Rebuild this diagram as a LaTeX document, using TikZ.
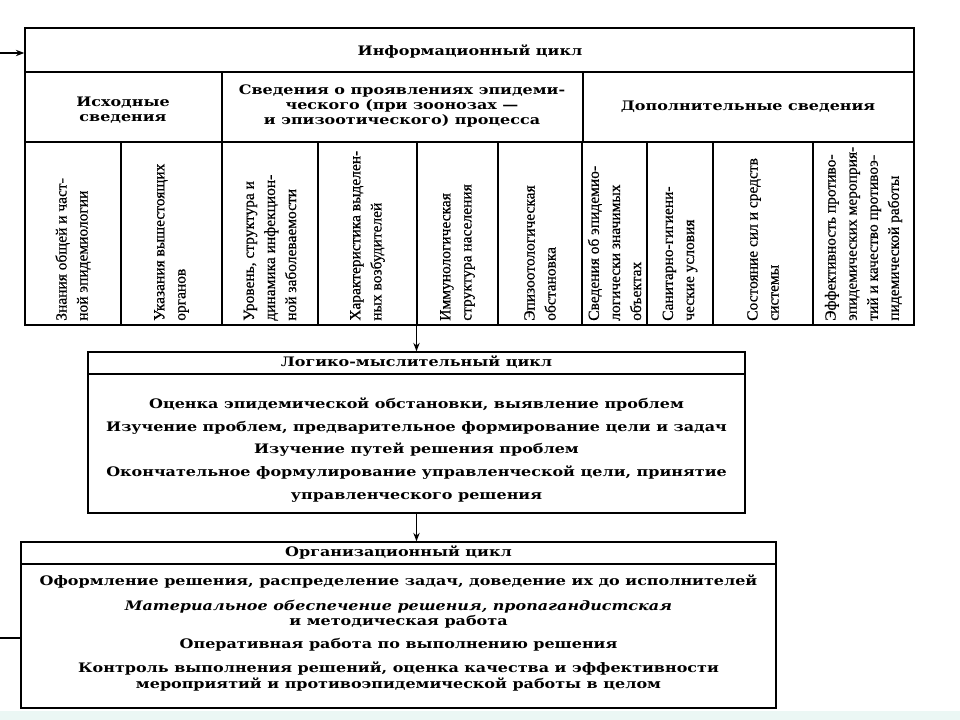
\documentclass[tikz,border=0pt]{standalone}
\usepackage{fontspec}
\setmainfont{DejaVu Serif}
\newfontfamily\cyclefont{DejaVu Serif}[FakeStretch=1.22]
\newfontfamily\columnfont{Liberation Serif}[FakeBold=0.6]
\usetikzlibrary{arrows.meta,positioning,fit,calc}
\definecolor{stripbg}{RGB}{235,247,244}
\tikzset{
  frame/.style={draw=black, line width=1pt, inner sep=0pt},
  rule/.style={line width=0.9pt},
  boxtext/.style={align=center, inner sep=0pt,
                  font=\cyclefont\bfseries\fontsize{9.3pt}{10.8pt}\selectfont},
  listtext/.style={boxtext, font=\cyclefont\bfseries\fontsize{9.3pt}{16pt}\selectfont},
  coltext/.style={rotate=90, anchor=west, align=left, inner sep=0pt,
                  font=\columnfont\fontsize{11pt}{15pt}\selectfont},
  arrow/.style={-{Stealth[length=6pt,width=4.5pt]}, line width=0.9pt},
}

\begin{document}
\begin{tikzpicture}[x=0.025cm, y=-0.025cm]
  \useasboundingbox (0,0) rectangle (960,720);
  \fill[stripbg] (0,711) rectangle (960,720);

  % Information cycle: title row, three source groups, ten columns
  \node[frame, fit={(25,28) (914,325)}] (infobox) {};
  \draw[rule] (25,72) -- (914,72);
  \draw[rule] (25,142) -- (914,142);
  \foreach \x in {222,583}
    \draw[rule] (\x,72) -- (\x,142);
  \foreach \x in {121,222,318,417,498,582,647,713,813}
    \draw[rule] (\x,142) -- (\x,325);

  \node[boxtext, anchor=mid] (infotitle) at (470,52) {Информационный цикл};
  \node[boxtext] (sourcehead) at (123,110) {Исходные\\сведения};
  \node[boxtext] (processhead) at (402,106) {Сведения о проявлениях эпидеми-\\ческого (при зоонозах —\\и эпизоотического) процесса};
  \node[boxtext, anchor=mid] (extrahead) at (748,107) {Дополнительные сведения};

  \foreach \xl/\xr/\txt [count=\i] in {
      25/121/{Знания общей и част-\\ной эпидемиологии},
      121/222/{Указания вышестоящих\\органов},
      222/318/{Уровень, структура и\\динамика инфекцион-\\ной заболеваемости},
      318/417/{Характеристика выделен-\\ных возбудителей},
      417/498/{Иммунологическая\\структура населения},
      498/582/{Эпизоотологическая\\обстановка},
      582/647/{Сведения об эпидемио-\\логически значимых\\объектах},
      647/713/{Санитарно-гигиени-\\ческие условия},
      713/813/{Состояние сил и средств\\системы},
      813/914/{Эффективность противо-\\эпидемических мероприя-\\тий и качество противоэ-\\пидемической работы}}
    \node[coltext] (column\i) at ({(\xl+\xr)/2},321) {\txt};

  % Logical cycle
  \node[frame, fit={(88,352) (745,513)}] (logicbox) {};
  \draw[rule] (88,374) -- (745,374);
  \node[boxtext, anchor=mid] (logictitle) at (416.5,363) {Логико-мыслительный цикл};
  \node[boxtext, anchor=mid] (assess) at (416.5,405) {Оценка эпидемической обстановки, выявление проблем};
  \node[boxtext, anchor=mid] (study) at (416.5,428) {Изучение проблем, предварительное формирование цели и задач};
  \node[boxtext, anchor=mid] (ways) at (416.5,450) {Изучение путей решения проблем};
  \node[listtext] (decide) at (416.5,484) {Окончательное формулирование управленческой цели, принятие\\управленческого решения};

  % Organisational cycle
  \node[frame, fit={(21,542) (776,708)}] (orgbox) {};
  \draw[rule] (21,564) -- (776,564);
  \node[boxtext, anchor=mid] (orgtitle) at (398.5,553) {Организационный цикл};
  \node[boxtext, anchor=mid] (assign) at (398.5,582) {Оформление решения, распределение задач, доведение их до исполнителей};
  \node[boxtext] (supply) at (398.5,614.5) {\itshape Материальное обеспечение решения, пропагандистская\\и методическая работа};
  \node[boxtext, anchor=mid] (execute) at (398.5,645) {Оперативная работа по выполнению решения};
  \node[boxtext] (control) at (398.5,676.5) {Контроль выполнения решений, оценка качества и эффективности\\мероприятий и противоэпидемической работы в целом};

  % Connectors between the cycles
  \draw[arrow] (infobox.south -| logicbox.north) -- (logicbox.north);
  \draw[arrow] (logicbox.south) -- (logicbox.south |- orgbox.north);
  \coordinate (feedin) at (0,53);
  \draw[arrow] (feedin) -- (feedin -| infobox.west);
  \coordinate (feedout) at (0,638);
  \draw[rule] (orgbox.west |- feedout) -- (feedout);
\end{tikzpicture}
\end{document}
